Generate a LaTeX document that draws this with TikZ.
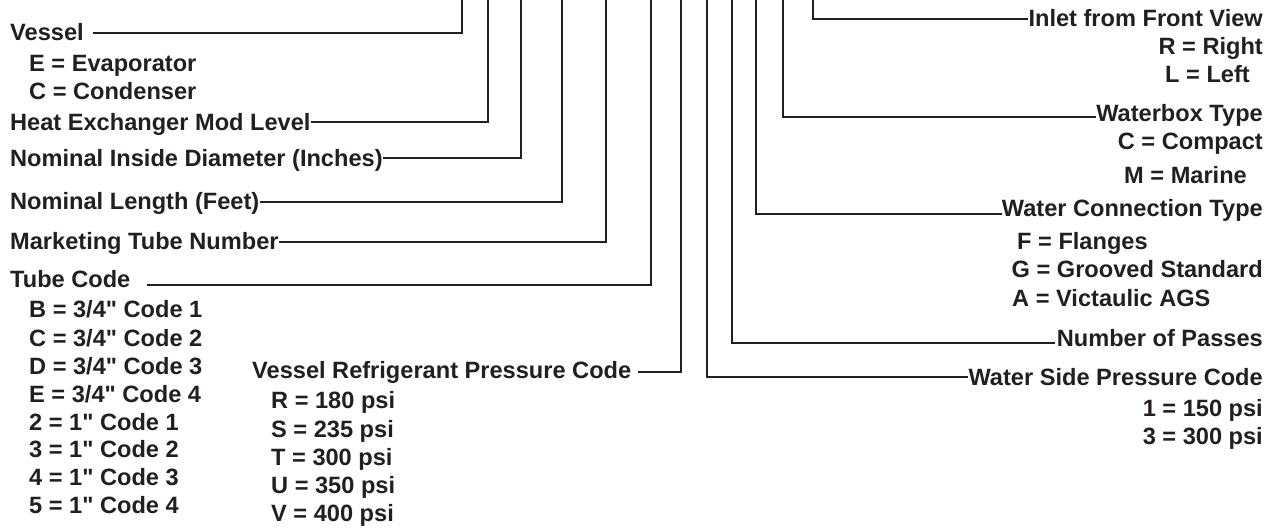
\documentclass[tikz,border=0pt]{standalone}
\usepackage{fontspec}
\setmainfont{Liberation Sans}
\definecolor{ink}{HTML}{231F20}
\newcommand\dq{\XeTeXglyph\XeTeXcharglyph"22\relax}
\begin{document}
\begin{tikzpicture}[x=1pt,y=-1pt,
  lbl/.style={inner sep=0pt, font=\bfseries\fontsize{23.6}{28}\selectfont, text=ink},
  lead/.style={draw=ink, line width=2.6pt}]
\useasboundingbox[fill=white] (0,0) rectangle (1272,529);
% top ends of the leaders
\coordinate (t1) at (462,-2);
\coordinate (t2) at (488,-2);
\coordinate (t3) at (521,-2);
\coordinate (t4) at (562,-2);
\coordinate (t5) at (606,-2);
\coordinate (t6) at (651,-2);
\coordinate (t7) at (681,-2);
\coordinate (t8) at (707,-2);
\coordinate (t9) at (732,-2);
\coordinate (t10) at (756,-2);
\coordinate (t11) at (783,-2);
\coordinate (t12) at (813,-2);
% left labels
\node[lbl, anchor=base west] (vessel) at (10,41) {Vessel};
\node[lbl, anchor=base west] (vesE) at (29,72) {E = Evaporator};
\node[lbl, anchor=base west] (vesC) at (29,100) {C = Condenser};
\node[lbl, anchor=base west] (heml) at (10,131) {Heat Exchanger Mod Level};
\node[lbl, anchor=base west] (nid) at (10,167) {Nominal Inside Diameter (Inches)};
\node[lbl, anchor=base west] (nl) at (10,210) {Nominal Length (Feet)};
\node[lbl, anchor=base west] (mtn) at (10,250) {Marketing Tube Number};
\node[lbl, anchor=base west] (tc) at (10,288) {Tube Code};
\node[lbl, anchor=base west] (tcB) at (29,318) {B = 3/4\dq{} Code 1};
\node[lbl, anchor=base west] (tcC) at (29,346) {C = 3/4\dq{} Code 2};
\node[lbl, anchor=base west] (tcD) at (29,374) {D = 3/4\dq{} Code 3};
\node[lbl, anchor=base west] (tcE) at (29,402) {E = 3/4\dq{} Code 4};
\node[lbl, anchor=base west] (tc2) at (29,430) {2 = 1\dq{} Code 1};
\node[lbl, anchor=base west] (tc3) at (29,457) {3 = 1\dq{} Code 2};
\node[lbl, anchor=base west] (tc4) at (29,485) {4 = 1\dq{} Code 3};
\node[lbl, anchor=base west] (tc5) at (29,513) {5 = 1\dq{} Code 4};
\node[lbl, anchor=base west] (vrpc) at (252,378) {Vessel Refrigerant Pressure Code};
\node[lbl, anchor=base west] (vrR) at (271,408) {R = 180 psi};
\node[lbl, anchor=base west] (vrS) at (271,437) {S = 235 psi};
\node[lbl, anchor=base west] (vrT) at (271,465) {T = 300 psi};
\node[lbl, anchor=base west] (vrU) at (271,493) {U = 350 psi};
\node[lbl, anchor=base west] (vrV) at (271,521) {V = 400 psi};
% right labels
\node[lbl, anchor=base east] (inlet) at (1263,27) {Inlet from Front View};
\node[lbl, anchor=base east] (inR) at (1263,55) {R = Right};
\node[lbl, anchor=base west] (inL) at (1165,83) {L = Left};
\node[lbl, anchor=base east] (wbt) at (1263,122) {Waterbox Type};
\node[lbl, anchor=base east] (wbC) at (1263,150) {C = Compact};
\node[lbl, anchor=base west] (wbM) at (1124,184) {M = Marine};
\node[lbl, anchor=base east] (wct) at (1263,217) {Water Connection Type};
\node[lbl, anchor=base west] (wcF) at (1017,250) {F = Flanges};
\node[lbl, anchor=base east] (wcG) at (1263,278) {G = Grooved Standard};
\node[lbl, anchor=base west] (wcA) at (1012,307) {A = Victaulic AGS};
\node[lbl, anchor=base east] (nop) at (1263,347) {Number of Passes};
\node[lbl, anchor=base east] (wspc) at (1263,385) {Water Side Pressure Code};
\node[lbl, anchor=base east] (ws1) at (1263,416) {1 = 150 psi};
\node[lbl, anchor=base east] (ws3) at (1263,444) {3 = 300 psi};
% leaders
\draw[lead] ([shift={(9,-8)}]vessel.base east) -| (t1);
\draw[lead] ([shift={(0,-9)}]heml.base east) -| (t2);
\draw[lead] ([shift={(0,-9)}]nid.base east) -| (t3);
\draw[lead] ([shift={(0,-8)}]nl.base east) -| (t4);
\draw[lead] ([shift={(0,-8)}]mtn.base east) -| (t5);
\draw[lead] ([shift={(16,-3)}]tc.base east) -| (t6);
\draw[lead] ([shift={(7,-6)}]vrpc.base east) -| (t7);
\draw[lead] ([shift={(0,-8)}]inlet.base west) -| (t12);
\draw[lead] ([shift={(0,-5)}]wbt.base west) -| (t11);
\draw[lead] ([shift={(0,-3)}]wct.base west) -| (t10);
\draw[lead] ([shift={(-2,-4)}]nop.base west) -| (t9);
\draw[lead] ([shift={(0,-8)}]wspc.base west) -| (t8);
\end{tikzpicture}
\end{document}
